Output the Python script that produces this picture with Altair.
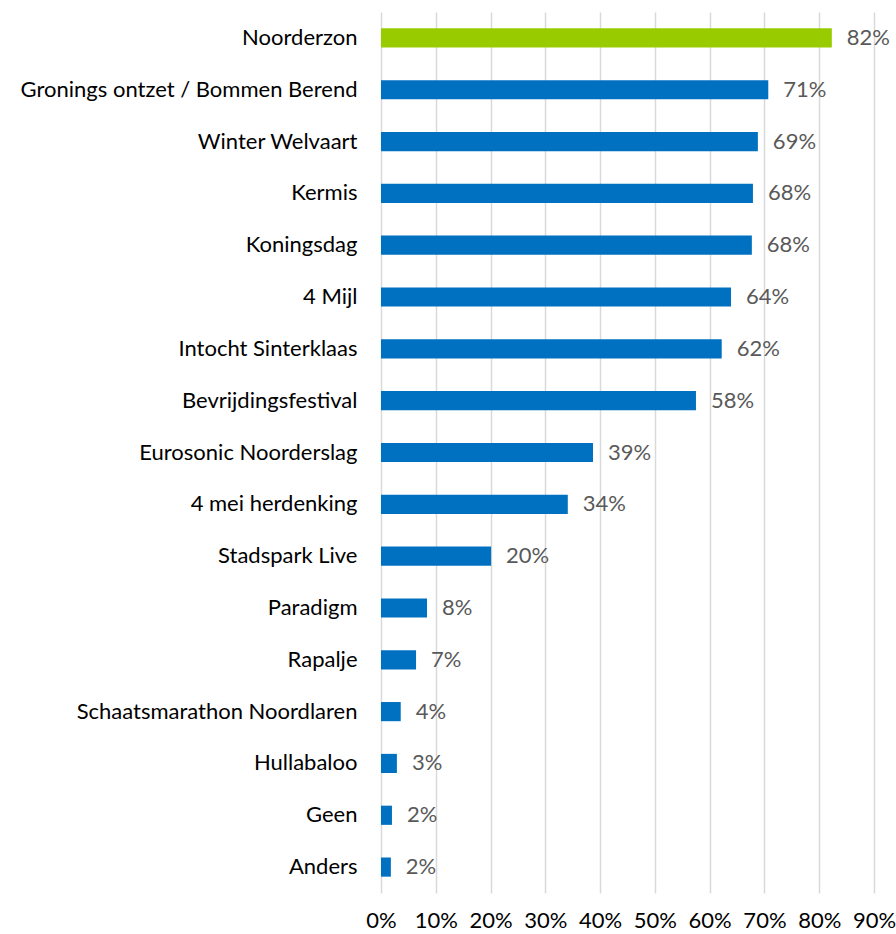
import altair as alt
import pandas as pd

categories = ["Noorderzon", "Gronings ontzet / Bommen Berend", "Winter Welvaart", "Kermis",
              "Koningsdag", "4 Mijl", "Intocht Sinterklaas", "Bevrijdingsfestival",
              "Eurosonic Noorderslag", "4 mei herdenking", "Stadspark Live", "Paradigm",
              "Rapalje", "Schaatsmarathon Noordlaren", "Hullabaloo", "Geen", "Anders"]
values = [0.823, 0.707, 0.688, 0.679, 0.677, 0.639, 0.622, 0.575, 0.387, 0.341,
          0.201, 0.084, 0.064, 0.036, 0.029, 0.020, 0.018]
labels = ["82%", "71%", "69%", "68%", "68%", "64%", "62%", "58%", "39%", "34%",
          "20%", "8%", "7%", "4%", "3%", "2%", "2%"]
highlight = ["ja"] + ["nee"] * 16

df = pd.DataFrame({"cat": categories, "val": values, "lab": labels, "hl": highlight})

FONT = "Lato"
FS = 22

y = alt.Y("cat:N", sort=categories, title=None,
          scale=alt.Scale(paddingInner=0.63, paddingOuter=0.315),
          axis=alt.Axis(ticks=False, domain=False, labelFontSize=FS, labelFont=FONT,
                        labelColor="#000000", labelPadding=24, labelLimit=400))
x = alt.X("val:Q", title=None,
          scale=alt.Scale(domain=[0, 0.9], nice=False),
          axis=alt.Axis(format=".0%", values=[i / 10 for i in range(10)], ticks=False,
                        domain=False, labelFontSize=FS, labelFont=FONT, labelColor="#000000",
                        labelPadding=17, gridColor="#d9d9d9", gridWidth=1.5,
                        labelAlign="center", labelFlush=False))

bars = alt.Chart(df).mark_bar().encode(
    x=x, y=y,
    color=alt.Color("hl:N", scale=alt.Scale(domain=["ja", "nee"], range=["#99CC00", "#0070C0"]),
                    legend=None),
)
text = alt.Chart(df).mark_text(align="left", baseline="middle", dx=15, fontSize=FS,
                               font=FONT, color="#595959").encode(
    x="val:Q", y=alt.Y("cat:N", sort=categories), text="lab:N")

chart = alt.layer(bars, text).properties(
    width=493, height=881,
    autosize=alt.AutoSizeParams(type="none"),
    padding={"left": 381, "top": 12, "right": 22, "bottom": 41},
).configure_view(stroke=None)

chart.save("out.html", embed_options={"renderer": "svg", "actions": False})
